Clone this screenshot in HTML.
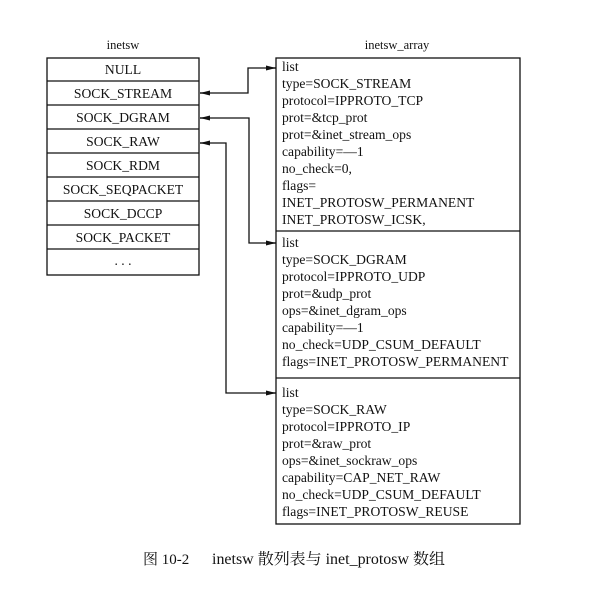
<!DOCTYPE html>
<html><head><meta charset="utf-8"><style>
body{margin:0;background:#fff;width:590px;height:599px;overflow:hidden;}
svg text{font-family:"Liberation Serif","Noto Serif CJK SC",serif;fill:#111;}
</style></head><body>
<svg width="590" height="599" viewBox="0 0 590 599" xmlns="http://www.w3.org/2000/svg">
<defs><marker id="a" markerWidth="10" markerHeight="6" refX="10" refY="3" orient="auto" markerUnits="userSpaceOnUse"><path d="M0,0.5 L10,3 L0,5.5 Z" fill="#111"/></marker></defs>
<text x="123" y="49" font-size="12.5" text-anchor="middle">inetsw</text>
<text x="397" y="49" font-size="12.5" text-anchor="middle">inetsw_array</text>
<g stroke="#111" stroke-width="1.3" fill="none">
<rect x="47" y="58" width="152" height="217"/>
<line x1="47" y1="81" x2="199" y2="81"/><line x1="47" y1="105" x2="199" y2="105"/>
<line x1="47" y1="129" x2="199" y2="129"/><line x1="47" y1="153" x2="199" y2="153"/>
<line x1="47" y1="177" x2="199" y2="177"/><line x1="47" y1="201" x2="199" y2="201"/>
<line x1="47" y1="225" x2="199" y2="225"/><line x1="47" y1="249" x2="199" y2="249"/>
<rect x="276" y="58" width="244" height="466"/>
<line x1="276" y1="231" x2="520" y2="231"/><line x1="276" y1="378" x2="520" y2="378"/>
<polyline points="276,68 248,68 248,93 200,93"/>
<polyline points="200,118 249,118 249,243 276,243"/>
<polyline points="200,143 226,143 226,393 276,393"/>
<line x1="266" y1="243" x2="276" y2="243" marker-end="url(#a)"/>
<line x1="266" y1="393" x2="276" y2="393" marker-end="url(#a)"/>
<line x1="266" y1="68" x2="276" y2="68" marker-end="url(#a)"/>
<line x1="210" y1="93" x2="200" y2="93" marker-end="url(#a)"/>
<line x1="210" y1="118" x2="200" y2="118" marker-end="url(#a)"/>
<line x1="210" y1="143" x2="200" y2="143" marker-end="url(#a)"/>
</g>
<g font-size="13.6" text-anchor="middle">
<text x="123" y="74">NULL</text><text x="123" y="98">SOCK_STREAM</text>
<text x="123" y="122">SOCK_DGRAM</text><text x="123" y="146">SOCK_RAW</text>
<text x="123" y="170">SOCK_RDM</text><text x="123" y="194">SOCK_SEQPACKET</text>
<text x="123" y="218">SOCK_DCCP</text><text x="123" y="242">SOCK_PACKET</text>
<text x="123" y="265">. . .</text>
</g>
<g font-size="13.6">
<text x="282" y="71">list</text><text x="282" y="88">type=SOCK_STREAM</text>
<text x="282" y="105">protocol=IPPROTO_TCP</text><text x="282" y="122">prot=&amp;tcp_prot</text>
<text x="282" y="139">prot=&amp;inet_stream_ops</text><text x="282" y="156">capability=—1</text>
<text x="282" y="173">no_check=0,</text><text x="282" y="190">flags=</text>
<text x="282" y="207">INET_PROTOSW_PERMANENT</text><text x="282" y="224">INET_PROTOSW_ICSK,</text>
<text x="282" y="247">list</text><text x="282" y="264">type=SOCK_DGRAM</text>
<text x="282" y="281">protocol=IPPROTO_UDP</text><text x="282" y="298">prot=&amp;udp_prot</text>
<text x="282" y="315">ops=&amp;inet_dgram_ops</text><text x="282" y="332">capability=—1</text>
<text x="282" y="349">no_check=UDP_CSUM_DEFAULT</text><text x="282" y="366">flags=INET_PROTOSW_PERMANENT</text>
<text x="282" y="397">list</text><text x="282" y="414">type=SOCK_RAW</text>
<text x="282" y="431">protocol=IPPROTO_IP</text><text x="282" y="448">prot=&amp;raw_prot</text>
<text x="282" y="465">ops=&amp;inet_sockraw_ops</text><text x="282" y="482">capability=CAP_NET_RAW</text>
<text x="282" y="499">no_check=UDP_CSUM_DEFAULT</text><text x="282" y="516">flags=INET_PROTOSW_REUSE</text>
</g>
<text x="143" y="564" font-size="15">图 10-2</text>
<text x="212" y="564" font-size="15.5" textLength="233" lengthAdjust="spacingAndGlyphs">inetsw 散列表与 inet_protosw 数组</text>
</svg>
</body></html>
